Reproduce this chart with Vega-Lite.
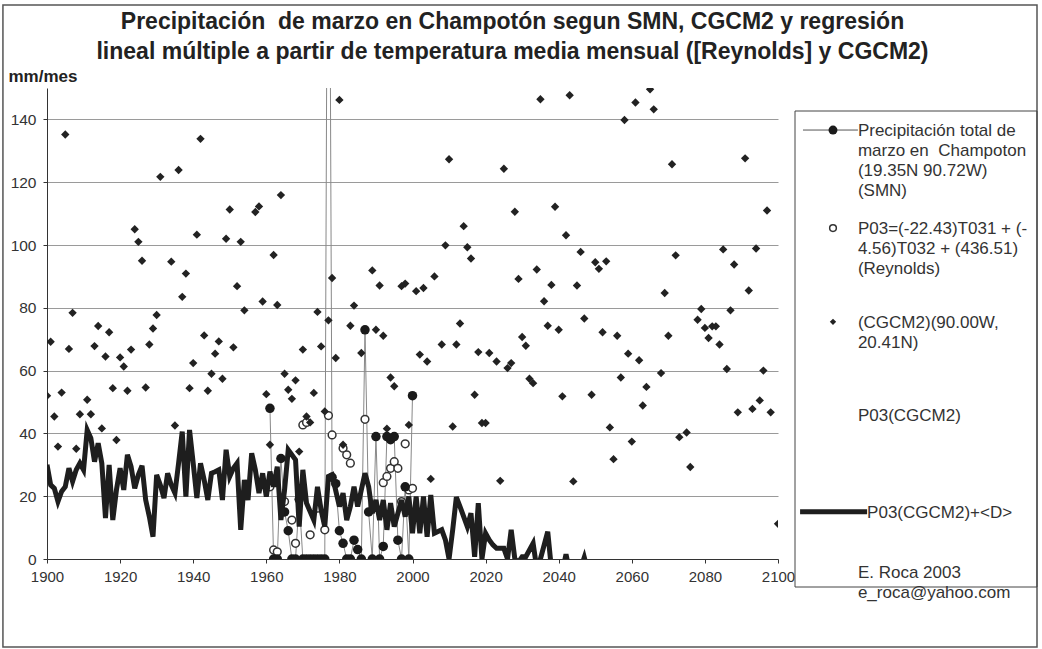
{
  "$schema": "https://vega.github.io/schema/vega-lite/v6.json",
  "autosize": {"type": "none"},
  "width": 731,
  "height": 471,
  "padding": {"left": 47, "top": 88, "right": 264, "bottom": 90},
  "background": "white",
  "config": {"view": {"stroke": null}, "font": "Liberation Sans"},
  "title": {
    "text": ["Precipitación\u00a0 de marzo en Champotón segun SMN, CGCM2 y regresión", "lineal múltiple a partir de temperatura media mensual ([Reynolds] y CGCM2)"],
    "anchor": "middle", "frame": "group", "fontSize": 23, "fontWeight": "bold", "font": "Liberation Sans",
    "lineHeight": 30, "dx": 100, "offset": -60, "color": "#222"
  },
  "datasets": {
    "cgcm2": [
      {"year":1900,"p":52.0},{"year":1901,"p":69.2},{"year":1902,"p":45.4},{"year":1903,"p":35.8},{"year":1904,"p":53.0},{"year":1905,"p":135.2},{"year":1906,"p":66.9},{"year":1907,"p":78.4},{"year":1908,"p":35.1},{"year":1909,"p":46.1},
      {"year":1911,"p":50.7},{"year":1912,"p":46.1},{"year":1913,"p":67.8},{"year":1914,"p":74.2},{"year":1915,"p":41.6},{"year":1916,"p":64.5},{"year":1917,"p":72.2},{"year":1918,"p":54.4},{"year":1919,"p":37.9},{"year":1920,"p":64.2},
      {"year":1921,"p":61.3},{"year":1922,"p":53.6},{"year":1923,"p":66.7},{"year":1924,"p":105},{"year":1925,"p":101},{"year":1926,"p":95},{"year":1927,"p":54.6},{"year":1928,"p":68.3},{"year":1929,"p":73.4},{"year":1930,"p":77.7},
      {"year":1931,"p":121.7},{"year":1934,"p":94.7},{"year":1935,"p":42.5},{"year":1936,"p":123.9},{"year":1937,"p":83.5},{"year":1938,"p":90.9},{"year":1939,"p":54.4},{"year":1940,"p":62.4},
      {"year":1941,"p":103.3},{"year":1942,"p":133.8},{"year":1943,"p":71.2},{"year":1944,"p":53.6},{"year":1945,"p":59.0},{"year":1946,"p":65.4},{"year":1947,"p":69.3},{"year":1948,"p":57.4},{"year":1949,"p":102},{"year":1950,"p":111.3},
      {"year":1951,"p":67.4},{"year":1952,"p":86.9},{"year":1953,"p":101},{"year":1954,"p":79.2},{"year":1957,"p":110.5},{"year":1958,"p":112.3},{"year":1959,"p":82},{"year":1960,"p":52.5},
      {"year":1961,"p":36.4},{"year":1962,"p":96.8},{"year":1963,"p":80.9},{"year":1964,"p":115.9},{"year":1965,"p":59.0},{"year":1966,"p":53.9},{"year":1967,"p":51.0},{"year":1968,"p":56.9},{"year":1969,"p":34.2},{"year":1970,"p":66.7},
      {"year":1971,"p":45.4},{"year":1972,"p":43.5},{"year":1973,"p":52.9},{"year":1974,"p":78.7},{"year":1975,"p":67.7},{"year":1976,"p":47.0},{"year":1977,"p":76.0},{"year":1978,"p":89.5},{"year":1979,"p":64.0},{"year":1980,"p":146.2},
      {"year":1981,"p":36.4},{"year":1983,"p":74.3},{"year":1984,"p":80.7},{"year":1986,"p":65.6},{"year":1989,"p":91.9},{"year":1990,"p":73.0},
      {"year":1991,"p":87.1},{"year":1992,"p":71.1},{"year":1993,"p":41.5},{"year":1994,"p":57.8},{"year":1995,"p":55.0},{"year":1997,"p":86.9},{"year":1998,"p":87.7},{"year":1999,"p":42.7},
      {"year":2001,"p":85.3},{"year":2002,"p":65.1},{"year":2003,"p":86.3},{"year":2004,"p":62.9},{"year":2005,"p":25.5},{"year":2006,"p":90.0},{"year":2008,"p":68.3},{"year":2009,"p":99.9},{"year":2010,"p":127.3},
      {"year":2011,"p":42.2},{"year":2012,"p":68.3},{"year":2013,"p":75.0},{"year":2014,"p":106},{"year":2015,"p":99.3},{"year":2016,"p":95.7},{"year":2017,"p":52.3},{"year":2018,"p":65.9},{"year":2019,"p":43.3},{"year":2020,"p":43.3},
      {"year":2021,"p":65.6},{"year":2023,"p":62.9},{"year":2024,"p":24.9},{"year":2025,"p":124.3},{"year":2026,"p":60.8},{"year":2027,"p":62.4},{"year":2028,"p":110.6},{"year":2029,"p":89.2},{"year":2030,"p":70.7},
      {"year":2031,"p":67.9},{"year":2032,"p":57.4},{"year":2033,"p":56.0},{"year":2034,"p":92.2},{"year":2035,"p":146.4},{"year":2036,"p":82.1},{"year":2037,"p":74.3},{"year":2038,"p":87.3},{"year":2039,"p":112.2},{"year":2040,"p":73.0},
      {"year":2041,"p":51.8},{"year":2042,"p":103.1},{"year":2043,"p":147.7},{"year":2044,"p":24.7},{"year":2045,"p":87.1},{"year":2046,"p":97.8},{"year":2047,"p":76.6},{"year":2049,"p":52.3},{"year":2050,"p":94.5},
      {"year":2051,"p":92.4},{"year":2052,"p":72.2},{"year":2053,"p":94.8},{"year":2054,"p":41.9},{"year":2055,"p":31.8},{"year":2056,"p":71.1},{"year":2057,"p":57.8},{"year":2058,"p":139.8},{"year":2059,"p":65.4},{"year":2060,"p":37.4},
      {"year":2061,"p":145.4},{"year":2062,"p":63.3},{"year":2063,"p":48.9},{"year":2064,"p":54.8},{"year":2065,"p":149.6},{"year":2066,"p":143.2},{"year":2068,"p":59.2},{"year":2069,"p":84.7},{"year":2070,"p":71.1},
      {"year":2071,"p":125.7},{"year":2072,"p":96.7},{"year":2073,"p":38.8},{"year":2075,"p":40.3},{"year":2076,"p":29.3},{"year":2078,"p":76.2},{"year":2079,"p":79.6},{"year":2080,"p":73.6},
      {"year":2081,"p":70.4},{"year":2082,"p":74.1},{"year":2083,"p":74.1},{"year":2084,"p":68.3},{"year":2085,"p":98.6},{"year":2086,"p":60.5},{"year":2087,"p":79.2},{"year":2088,"p":93.8},{"year":2089,"p":46.7},
      {"year":2091,"p":127.6},{"year":2092,"p":85.5},{"year":2093,"p":47.8},{"year":2094,"p":98.9},{"year":2095,"p":50.5},{"year":2096,"p":60.0},{"year":2097,"p":111},{"year":2098,"p":46.7},{"year":2100,"p":11.2}
    ],
    "smn": [
      {"year":1961,"p":48},{"year":1962,"p":0},{"year":1963,"p":0},{"year":1964,"p":32},{"year":1965,"p":15},{"year":1966,"p":9},{"year":1967,"p":0},{"year":1968,"p":0},{"year":1969,"p":19},{"year":1970,"p":0},
      {"year":1971,"p":0},{"year":1972,"p":0},{"year":1973,"p":0},{"year":1974,"p":0},{"year":1975,"p":0},{"year":1976,"p":0},{"year":1977,"p":300},{"year":1978,"p":26},{"year":1979,"p":24},{"year":1980,"p":9},
      {"year":1981,"p":5},{"year":1982,"p":0},{"year":1983,"p":0},{"year":1984,"p":6},{"year":1985,"p":3},{"year":1986,"p":0},{"year":1987,"p":73},{"year":1988,"p":15},{"year":1989,"p":0},{"year":1990,"p":39},
      {"year":1991,"p":0},{"year":1992,"p":4},{"year":1993,"p":39},{"year":1994,"p":38},{"year":1995,"p":39},{"year":1996,"p":6},{"year":1997,"p":0},{"year":1998,"p":23},{"year":1999,"p":0},{"year":2000,"p":52}
    ],
    "reyn": [
      {"year":1961,"p":23},{"year":1962,"p":2.9},{"year":1963,"p":2.3},{"year":1965,"p":18.3},{"year":1967,"p":12.4},{"year":1968,"p":5},{"year":1970,"p":42.7},
      {"year":1971,"p":43.5},{"year":1972,"p":7.7},{"year":1974,"p":16.2},{"year":1976,"p":9.3},{"year":1977,"p":45.7},{"year":1978,"p":39.5},
      {"year":1981,"p":35.3},{"year":1982,"p":33.2},{"year":1983,"p":30.5},{"year":1987,"p":44.5},
      {"year":1992,"p":24.3},{"year":1993,"p":26.3},{"year":1994,"p":28.9},{"year":1995,"p":31.0},{"year":1996,"p":28.9},{"year":1997,"p":18.3},{"year":1998,"p":36.7},{"year":1999,"p":22},{"year":2000,"p":22.5}
    ],
    "pd": [
      {"year":1900,"p":30.0},{"year":1901,"p":23.6},{"year":1902,"p":22.5},{"year":1903,"p":18.3},{"year":1904,"p":21.5},{"year":1905,"p":23},{"year":1906,"p":28.9},{"year":1907,"p":24.7},{"year":1908,"p":28.4},{"year":1909,"p":30.5},
      {"year":1910,"p":28.4},{"year":1911,"p":41.1},{"year":1912,"p":38.5},{"year":1913,"p":31.0},{"year":1914,"p":36.9},{"year":1915,"p":30.5},{"year":1916,"p":13.0},{"year":1917,"p":30},{"year":1918,"p":12.4},{"year":1919,"p":22},
      {"year":1920,"p":28.9},{"year":1921,"p":22},{"year":1922,"p":33.2},{"year":1923,"p":29.4},{"year":1924,"p":22.5},{"year":1925,"p":26.8},{"year":1926,"p":29.7},{"year":1927,"p":18.8},{"year":1928,"p":13.5},{"year":1929,"p":7.1},
      {"year":1930,"p":26.8},{"year":1931,"p":23.6},{"year":1932,"p":19.4},{"year":1933,"p":27.3},{"year":1934,"p":23.6},{"year":1935,"p":21},{"year":1936,"p":30.5},{"year":1937,"p":40.6},{"year":1938,"p":19.9},{"year":1939,"p":41.1},
      {"year":1940,"p":30.5},{"year":1941,"p":19.4},{"year":1942,"p":30.5},{"year":1943,"p":25.2},{"year":1944,"p":18.8},{"year":1945,"p":27.3},{"year":1946,"p":27.8},{"year":1947,"p":28.4},{"year":1948,"p":18.8},{"year":1949,"p":34.8},
      {"year":1950,"p":26.3},{"year":1951,"p":28.9},{"year":1952,"p":30.5},{"year":1953,"p":9.3},{"year":1954,"p":25.2},{"year":1955,"p":18.8},{"year":1956,"p":33.7},{"year":1957,"p":28.4},{"year":1958,"p":21},{"year":1959,"p":27.3},
      {"year":1960,"p":19.9},{"year":1961,"p":27.8},{"year":1962,"p":23},{"year":1963,"p":29.4},{"year":1964,"p":12.4},{"year":1965,"p":22},{"year":1966,"p":34.8},{"year":1968,"p":31.6},{"year":1969,"p":10.3},
      {"year":1970,"p":28.4},{"year":1971,"p":17.8},{"year":1973,"p":12.4},{"year":1974,"p":23},{"year":1975,"p":15.6},{"year":1976,"p":10.3},{"year":1977,"p":26.3},{"year":1978,"p":26.8},{"year":1980,"p":16.7},
      {"year":1981,"p":21},{"year":1982,"p":12.4},{"year":1983,"p":16.7},{"year":1984,"p":23},{"year":1985,"p":16.7},{"year":1987,"p":27.3},{"year":1988,"p":23},{"year":1989,"p":14.6},
      {"year":1990,"p":18.8},{"year":1991,"p":12.4},{"year":1992,"p":18.8},{"year":1993,"p":9.3},{"year":1994,"p":17.8},{"year":1995,"p":10.3},{"year":1997,"p":18.8},{"year":1998,"p":13.5},{"year":1999,"p":19.9},
      {"year":2000,"p":8.2},{"year":2001,"p":19.9},{"year":2002,"p":8.2},{"year":2003,"p":19.9},{"year":2004,"p":7.1},{"year":2005,"p":20.4},{"year":2006,"p":8.2},{"year":2008,"p":9.3},{"year":2009,"p":6.1},
      {"year":2010,"p":0},{"year":2011,"p":9.3},{"year":2012,"p":19.7},{"year":2013,"p":16.7},{"year":2015,"p":10.3},{"year":2016,"p":14.6},{"year":2017,"p":0.7},{"year":2018,"p":17.8},{"year":2019,"p":0},
      {"year":2020,"p":8.2},{"year":2021,"p":6.1},{"year":2022,"p":4.5},{"year":2023,"p":3.4},{"year":2025,"p":3.4},{"year":2026,"p":0},{"year":2027,"p":9.3},{"year":2028,"p":0},{"year":2029,"p":-1},
      {"year":2030,"p":0.7},{"year":2031,"p":0.7},{"year":2033,"p":5},{"year":2034,"p":-3},{"year":2035,"p":0},{"year":2037,"p":8.7},{"year":2038,"p":-3},{"year":2039,"p":-6},
      {"year":2040,"p":-8},{"year":2041,"p":-4},{"year":2042,"p":1.5},{"year":2043,"p":-4},{"year":2044,"p":-8},{"year":2045,"p":-8},{"year":2046,"p":-3},{"year":2047,"p":0.5},{"year":2048,"p":-4}
    ],
    "legbox": [{"lx":0,"ly":0,"lx2":1,"ly2":1}],
    "frame": [{"lx":-3.273,"ly":-0.2227,"lx2":1.0,"ly2":1.126}],
    "legtext": [
      {"lx":0.26,"ly":0.0525,"t":"Precipitación total de\nmarzo en\u00a0 Champoton\n(19.35N 90.72W)\n(SMN)"},
      {"lx":0.26,"ly":0.2584,"t":"P03=(-22.43)T031 + (-\n4.56)T032 + (436.51)\n(Reynolds)"},
      {"lx":0.26,"ly":0.4559,"t":"(CGCM2)(90.00W,\n20.41N)"},
      {"lx":0.26,"ly":0.6513,"t":"P03(CGCM2)"},
      {"lx":0.298,"ly":0.8550,"t":"P03(CGCM2)+<D>"},
      {"lx":0.26,"ly":0.9811,"t":"E. Roca 2003\ne_roca@yahoo.com"}
    ],
    "legsym": [
      {"key":"smn","lx":0.157,"ly":0.040},
      {"key":"reyn","lx":0.157,"ly":0.246},
      {"key":"cgcm2","lx":0.157,"ly":0.443}
    ],
    "leglines": [
      {"key":"smn","lx":0.033,"lx2":0.26,"ly":0.040},
      {"key":"pd","lx":0.021,"lx2":0.298,"ly":0.842}
    ]
  },
  "layer": [
    {
      "encoding": {
        "x": {"field": "year", "type": "quantitative", "scale": {"domain": [1900, 2100], "nice": false, "zero": false},
              "axis": {"title": null, "values": [1900,1920,1940,1960,1980,2000,2020,2040,2060,2080,2100], "format": "d", "grid": false,
                       "domainColor": "#333", "tickColor": "#333", "tickSize": 4, "labelFontSize": 15, "labelColor": "#333", "labelPadding": 6, "labelFlush": false, "labelOverlap": false}},
        "y": {"field": "p", "type": "quantitative", "scale": {"domain": [0, 150], "nice": false, "zero": false},
              "axis": {"title": "mm/mes", "titleAngle": 0, "titleX": -39, "titleY": -7, "titleAlign": "left", "titleBaseline": "alphabetic", "titleFontSize": 17, "titleFontWeight": "bold", "titleColor": "#222",
                       "values": [0,20,40,60,80,100,120,140], "grid": true, "gridColor": "#9a9a9a", "gridWidth": 1,
                       "domainColor": "#333", "tickColor": "#333", "tickSize": 4, "labelFontSize": 15.5, "labelColor": "#333", "labelPadding": 7}}
      },
      "layer": [
        {"data": {"name": "smn"}, "mark": {"type": "line", "color": "#888", "strokeWidth": 1, "clip": true}},
        {"data": {"name": "reyn"}, "mark": {"type": "point", "shape": "circle", "filled": true, "fill": "white", "stroke": "#333", "strokeWidth": 1.5, "size": 60, "opacity": 1, "clip": true}},
        {"data": {"name": "smn"}, "mark": {"type": "point", "shape": "circle", "filled": true, "color": "#1a1a1a", "size": 90, "opacity": 1, "clip": true}},
        {"data": {"name": "cgcm2"}, "mark": {"type": "point", "shape": "diamond", "filled": true, "color": "#222", "size": 70, "opacity": 1, "clip": true}},
        {"data": {"name": "pd"}, "mark": {"type": "line", "color": "#1e1e1e", "strokeWidth": 5, "clip": true}}
      ]
    },
    {
      "encoding": {
        "x": {"field": "lx", "type": "quantitative", "scale": {"domain": [0, 1], "range": [748, 990], "nice": false, "zero": false}, "axis": null},
        "y": {"field": "ly", "type": "quantitative", "scale": {"domain": [0, 1], "range": [23, 499], "nice": false, "zero": false}, "axis": null}
      },
      "layer": [
        {"data": {"name": "frame"}, "mark": {"type": "rect", "fill": null, "fillOpacity": 0, "stroke": "#555", "strokeWidth": 1.5, "clip": false}, "encoding": {"x2": {"field": "lx2"}, "y2": {"field": "ly2"}}},
        {"data": {"name": "legbox"}, "mark": {"type": "rect", "fill": null, "fillOpacity": 0, "stroke": "#444", "strokeWidth": 1, "clip": false}, "encoding": {"x2": {"field": "lx2"}, "y2": {"field": "ly2"}}},
        {"data": {"name": "leglines"}, "transform": [{"filter": "datum.key === 'smn'"}], "mark": {"type": "rule", "color": "#555", "strokeWidth": 1}, "encoding": {"x2": {"field": "lx2"}}},
        {"data": {"name": "leglines"}, "transform": [{"filter": "datum.key === 'pd'"}], "mark": {"type": "rule", "color": "#1e1e1e", "strokeWidth": 5}, "encoding": {"x2": {"field": "lx2"}}},
        {"data": {"name": "legsym"}, "transform": [{"filter": "datum.key === 'smn'"}], "mark": {"type": "point", "shape": "circle", "filled": true, "color": "#1a1a1a", "size": 80, "opacity": 1}},
        {"data": {"name": "legsym"}, "transform": [{"filter": "datum.key === 'reyn'"}], "mark": {"type": "point", "shape": "circle", "filled": true, "fill": "white", "stroke": "#333", "strokeWidth": 1.5, "size": 45, "opacity": 1}},
        {"data": {"name": "legsym"}, "transform": [{"filter": "datum.key === 'cgcm2'"}], "mark": {"type": "point", "shape": "diamond", "filled": true, "color": "#222", "size": 40, "opacity": 1}},
        {"data": {"name": "legtext"}, "mark": {"type": "text", "align": "left", "baseline": "alphabetic", "lineBreak": "\n", "lineHeight": 20, "fontSize": 17, "font": "Liberation Sans", "color": "#333"}, "encoding": {"text": {"field": "t"}}}
      ]
    }
  ],
  "resolve": {"scale": {"x": "independent", "y": "independent"}}
}
